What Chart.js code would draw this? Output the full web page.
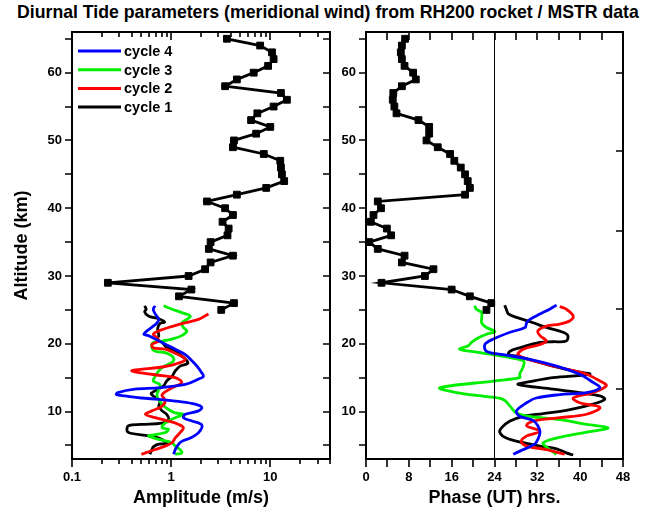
<!DOCTYPE html>
<html>
<head>
<meta charset="utf-8">
<script src="https://cdn.jsdelivr.net/npm/chart.js@4.4.1/dist/chart.umd.min.js"></script>
<style>
  body { margin: 0; background: #fff; width: 646px; height: 516px; position: relative; overflow: hidden; font-family: "Liberation Sans", Arial, sans-serif; }
  #title { position: absolute; left: 17px; top: 2px; white-space: nowrap; font-weight: bold; font-size: 17.7px; color: #000; }
  #amp { position: absolute; left: 0; top: 0; }
  #phase { position: absolute; left: 340px; top: 0; }
</style>
</head>
<body>
<div id="title">Diurnal Tide parameters (meridional wind) from RH200 rocket / MSTR data</div>
<canvas id="amp" width="340" height="516"></canvas>
<canvas id="phase" width="306" height="516"></canvas>
<script>
// rocket profile (cycle 1), altitude in km, one point per km
const rocketAlt = [65, 64, 63, 62, 61, 60, 59, 58, 57, 56, 55, 54, 53, 52, 51, 50, 49, 48, 47, 46, 45,
                   44, 43, 42, 41, 40, 39, 38, 37, 36, 35, 34, 33, 32, 31, 30, 29, 28, 27, 26, 25];
const rocketAmp = [3.65, 7.9, 10.4, 10.8, 9.5, 6.8, 4.6, 3.5, 12.8, 14.7, 10.8, 7.4, 6.4, 10.0, 7.2, 4.3, 4.2,
                   8.6, 12.6, 12.8, 13.1, 13.8, 9.1, 4.6, 2.3, 3.5, 4.2, 3.3, 3.8, 3.7, 2.5, 2.4, 4.2, 2.5,
                   2.2, 1.5, 0.23, 1.6, 1.2, 4.3, 3.2];
const rocketPhase = [7.3, 6.7, 6.5, 6.7, 7.2, 8.8, 9.3, 6.7, 5.1, 5.0, 5.3, 5.7, 9.8, 11.8, 11.8, 11.3, 13.4,
                     15.7, 16.5, 17.7, 18.5, 19.0, 19.4, 18.5, 2.2, 2.8, 1.4, 0.9, 3.9, 4.7, 0.6, 2.2, 7.2,
                     6.7, 12.6, 11.0, 2.9, 16.0, 19.4, 23.4, 22.5];

// MSTR radar profiles: [altitude km, value]
const cycle1Amp = [[25.6,0.54],[25.1,0.56],[24.7,0.54],[24.1,0.59],[23.7,0.75],[23.2,0.86],[23.0,0.77],[22.2,0.73],
  [21.2,0.75],[20.7,0.72],[20.2,0.81],[19.6,0.88],[19.2,0.98],[18.9,1.10],[18.4,1.23],[17.5,1.44],[17.1,1.47],
  [16.7,1.23],[16.0,1.10],[15.2,1.02],[14.5,0.90],[13.8,0.84],[12.7,0.63],[12.3,0.66],[11.8,0.75],[11.3,0.77],
  [10.8,0.75],[10.1,0.81],[9.6,0.90],[8.8,0.94],[8.3,0.81],[8.1,0.50],[7.9,0.37],[7.1,0.36],[6.8,0.39],[6.4,0.59],
  [6.1,0.75],[5.6,0.87],[5.3,0.94],[5.2,0.75],[4.8,0.66],[4.4,0.64],[3.7,0.61]];
const cycle2Amp = [[24.4,2.38],[23.6,1.89],[23.1,1.39],[22.4,0.94],[21.9,0.75],[21.4,0.66],[20.9,0.72],[20.4,0.75],
  [19.9,0.64],[19.4,0.66],[19.2,0.87],[18.7,1.06],[17.7,1.39],[17.0,1.10],[16.5,0.75],[16.2,0.47],[16.0,0.40],
  [15.7,0.50],[15.3,0.81],[15.0,1.10],[14.3,1.28],[13.5,1.02],[12.5,0.81],[11.6,0.87],[10.8,0.81],[10.1,0.64],
  [9.6,0.55],[9.1,0.69],[8.6,0.94],[8.1,1.19],[7.6,1.33],[6.9,1.23],[6.1,1.10],[5.4,1.02],[4.9,0.87],[4.4,0.69],
  [3.9,0.55],[3.7,0.50]];
const cycle3Amp = [[25.6,0.84],[25.1,1.02],[24.6,1.28],[24.1,1.56],[23.6,1.44],[23.1,1.28],[22.4,1.33],[21.9,1.44],
  [21.2,1.28],[20.7,1.02],[20.4,0.81],[20.2,0.66],[19.4,0.64],[18.9,0.69],[18.7,0.87],[18.2,1.02],[17.5,1.06],
  [17.0,0.94],[16.5,0.81],[16.0,0.75],[15.2,0.69],[14.5,0.66],[14.0,0.77],[13.3,0.75],[12.3,0.72],[11.1,0.81],
  [10.3,0.94],[9.8,1.10],[9.6,1.33],[9.1,1.10],[8.3,0.87],[7.6,0.81],[7.4,0.94],[6.9,0.87],[6.6,0.69],[6.4,0.59],
  [5.9,0.75],[5.4,1.02],[4.9,1.10],[4.4,1.23],[3.9,1.28],[3.7,1.10]];
const cycle4Amp = [[25.6,0.69],[25.1,0.66],[24.4,0.69],[23.6,0.75],[23.1,0.72],[22.6,0.66],[21.9,0.57],[21.4,0.53],
  [21.2,0.59],[20.7,0.69],[20.2,0.81],[19.7,0.94],[19.2,1.10],[18.4,1.39],[17.5,1.62],[16.7,1.82],[15.7,2.04],
  [15.2,2.12],[14.8,1.89],[14.0,1.39],[13.5,0.75],[13.3,0.43],[12.8,0.29],[12.5,0.28],[12.3,0.34],[12.0,0.50],
  [11.8,0.75],[11.5,1.19],[11.1,1.75],[10.6,2.04],[10.1,1.89],[9.6,1.39],[9.1,1.33],[8.6,1.62],[8.0,2.04],
  [6.9,1.89],[6.1,1.56],[5.6,1.28],[5.2,1.19],[4.4,1.10],[3.7,1.06]];

const cycle1Phase = [[25.7,25.9],[25.1,26.2],[24.4,26.6],[23.9,28.1],[23.1,31.2],[22.4,33.7],[21.7,36.8],[21.2,37.7],
  [20.4,37.4],[20.3,34.9],[20.2,32.5],[19.4,28.7],[18.9,26.9],[18.4,26.6],[18.2,28.1],[17.5,31.2],[16.7,34.9],
  [16.0,38.7],[15.5,41.8],[15.0,34.9],[14.4,30.6],[14.0,28.4],[13.3,34.9],[12.8,39.9],[12.3,43.7],[11.8,44.6],
  [11.1,42.4],[10.3,38.1],[9.7,33.1],[9.3,29.4],[8.6,26.9],[7.6,25.3],[6.9,25.0],[6.1,26.2],[5.4,29.4],[4.9,32.5],
  [4.5,35.6],[3.9,37.4],[3.6,38.7]];
const cycle2Phase = [[25.5,36.2],[25.1,37.4],[24.1,38.7],[23.4,38.1],[22.9,36.2],[22.6,33.7],[21.9,32.1],[21.2,32.5],
  [20.4,33.7],[19.9,32.5],[19.2,29.4],[18.4,28.4],[17.5,31.2],[16.5,36.2],[15.5,41.2],[14.5,43.7],[13.8,44.9],
  [12.8,42.4],[12.0,38.7],[11.3,39.9],[10.6,43.7],[9.6,41.2],[9.1,36.2],[8.6,31.2],[7.9,30.0],[7.1,32.5],[6.4,30.0],
  [5.6,29.0],[4.9,30.0],[4.4,33.7],[3.7,37.1]];
const cycle3Phase = [[25.6,20.3],[25.1,20.6],[24.6,21.6],[23.1,21.6],[22.4,22.5],[21.8,24.1],[21.4,22.5],[20.9,21.0],
  [20.2,19.7],[19.7,19.1],[19.2,17.5],[18.7,21.3],[17.5,29.4],[16.7,29.4],[15.5,28.7],[15.0,28.7],[14.5,23.8],
  [13.5,13.8],[12.8,16.9],[12.2,22.5],[11.8,25.6],[10.8,26.9],[9.8,28.1],[9.3,30.6],[8.8,36.2],[8.1,41.2],
  [7.6,45.2],[7.1,42.4],[6.4,37.4],[5.4,33.1],[4.4,34.3],[3.7,35.6]];
const cycle4Phase = [[25.7,35.6],[25.1,34.3],[24.4,32.5],[23.6,30.6],[23.1,30.0],[22.4,29.7],[21.7,26.9],[20.7,23.8],
  [19.9,22.2],[18.9,22.5],[18.4,25.6],[17.7,30.6],[16.7,35.6],[15.5,39.9],[14.3,42.4],[13.5,43.7],[12.8,41.2],
  [12.5,36.2],[12.0,31.8],[11.3,30.0],[10.1,28.1],[9.3,28.7],[8.7,31.2],[7.9,32.1],[6.9,32.5],[5.9,32.1],[5.2,31.5],
  [4.4,29.4],[3.7,27.5]];

// ticks
const altLabels = [10, 20, 30, 40, 50, 60];
const altTicks = [5, 10, 15, 20, 25, 30, 35, 40, 45, 50, 55, 60, 65];
const phaseRightTicks = [13.4, 25.1, 36.7, 48.4, 60];
const ampLabels = [0.1, 1, 10];
const ampMinor = [0.2, 0.3, 0.4, 0.5, 0.6, 0.7, 0.8, 0.9, 2, 3, 4, 5, 6, 7, 8, 9, 20, 30, 40];
const phaseLabels = [0, 8, 16, 24, 32, 40, 48];
const phaseTicks = [0, 4, 8, 12, 16, 20, 24, 28, 32, 36, 40, 44, 48];
const refPhase = 24;

const legendItems = [
  { label: 'cycle 4', color: '#0000ff' },
  { label: 'cycle 3', color: '#00ee00' },
  { label: 'cycle 2', color: '#ff0000' },
  { label: 'cycle 1', color: '#000000' }
];
const colorOf = {};
legendItems.forEach(d => { colorOf[d.label] = d.color; });

Chart.defaults.font.family = '"Liberation Sans", Arial, sans-serif';
Chart.defaults.font.weight = 'bold';
Chart.defaults.color = '#000';

function radar(label, pairs) {
  return {
    label: label,
    data: pairs.map(p => ({ x: p[1], y: p[0] })),
    borderColor: colorOf[label],
    borderWidth: 2.8,
    pointRadius: 0,
    tension: 0.35,
    fill: false
  };
}

function rocket(values) {
  return {
    label: 'rocket',
    data: rocketAlt.map((a, i) => ({ x: values[i], y: a })),
    borderColor: '#000',
    backgroundColor: '#000',
    borderWidth: 2.8,
    pointStyle: 'rect',
    pointRadius: 4.8,
    pointBorderWidth: 1,
    tension: 0,
    fill: false
  };
}

// frame, tick marks on all four sides, optional reference line
function framePlugin(cfg) {
  return {
    id: 'frame',
    afterDatasetsDraw(chart) {
      const { ctx, chartArea: a, scales: { x, y } } = chart;
      ctx.save();
      ctx.strokeStyle = '#000';
      if (cfg.refX !== undefined) {
        const px = x.getPixelForValue(cfg.refX);
        ctx.lineWidth = 1;
        ctx.beginPath();
        ctx.moveTo(px, a.top);
        ctx.lineTo(px, a.bottom);
        ctx.stroke();
      }
      ctx.lineWidth = 1.6;
      ctx.beginPath();
      cfg.leftTicks.forEach(v => {
        const py = Math.round(y.getPixelForValue(v));
        ctx.moveTo(a.left - 7, py); ctx.lineTo(a.left, py);
      });
      cfg.rightTicks.forEach(v => {
        const py = Math.round(y.getPixelForValue(v));
        ctx.moveTo(a.right - 7, py); ctx.lineTo(a.right, py);
      });
      cfg.xMajor.forEach(v => {
        const px = Math.round(x.getPixelForValue(v));
        ctx.moveTo(px, a.bottom); ctx.lineTo(px, a.bottom + 8);
        ctx.moveTo(px, a.top); ctx.lineTo(px, a.top + 8);
      });
      cfg.xMinor.forEach(v => {
        const px = Math.round(x.getPixelForValue(v));
        ctx.moveTo(px, a.bottom); ctx.lineTo(px, a.bottom + cfg.minorLen);
        ctx.moveTo(px, a.top); ctx.lineTo(px, a.top + cfg.minorLen);
      });
      ctx.stroke();
      ctx.lineWidth = 2;
      ctx.strokeRect(a.left, a.top, a.right - a.left, a.bottom - a.top);
      ctx.restore();
    }
  };
}

const legendPlugin = {
  id: 'insideLegend',
  afterDraw(chart) {
    const { ctx, chartArea: a } = chart;
    ctx.save();
    ctx.font = 'bold 14.5px "Liberation Sans", Arial, sans-serif';
    ctx.textBaseline = 'middle';
    legendItems.forEach((d, i) => {
      const yy = a.top + 19 + i * 18.7;
      ctx.strokeStyle = d.color;
      ctx.lineWidth = 3;
      ctx.beginPath();
      ctx.moveTo(a.left + 6, yy);
      ctx.lineTo(a.left + 49, yy);
      ctx.stroke();
      ctx.fillStyle = '#000';
      ctx.fillText(d.label, a.left + 52, yy + 1);
    });
    ctx.restore();
  }
};

const tickFont = { size: 13, weight: 'bold' };
const titleFont = { size: 18, weight: 'bold' };

function yAxis(width, showTitle) {
  return {
    type: 'linear',
    min: 3,
    max: 66,
    afterBuildTicks: s => { s.ticks = altLabels.map(v => ({ value: v })); },
    afterFit: s => { s.width = width; },
    grid: { display: false, drawTicks: false },
    border: { display: false },
    ticks: { padding: 10, font: tickFont, color: '#000' },
    title: { display: showTitle, text: 'Altitude (km)', color: '#000', font: titleFont, padding: { top: 11, bottom: 0 } }
  };
}

new Chart(document.getElementById('amp'), {
  type: 'line',
  data: {
    datasets: [
      rocket(rocketAmp),
      radar('cycle 4', cycle4Amp),
      radar('cycle 2', cycle2Amp),
      radar('cycle 3', cycle3Amp),
      radar('cycle 1', cycle1Amp)
    ]
  },
  options: {
    responsive: false,
    animation: false,
    layout: { padding: { top: 32, right: 10, left: 0, bottom: 0 } },
    plugins: { legend: { display: false }, tooltip: { enabled: false } },
    scales: {
      x: {
        type: 'logarithmic',
        min: 0.1,
        max: 40,
        afterBuildTicks: s => { s.ticks = ampLabels.map(v => ({ value: v })); },
        afterFit: s => { s.height = 57; },
        grid: { display: false, drawTicks: false },
        border: { display: false },
        ticks: { padding: 11, font: tickFont, color: '#000', maxRotation: 0, autoSkip: false, callback: v => String(v) },
        title: { display: true, text: 'Amplitude (m/s)', color: '#000', font: titleFont, padding: { top: 0, bottom: 7 } }
      },
      y: yAxis(72, true)
    }
  },
  plugins: [framePlugin({ leftTicks: altTicks, rightTicks: altTicks, xMajor: ampLabels, xMinor: ampMinor, minorLen: 5 }), legendPlugin]
});

new Chart(document.getElementById('phase'), {
  type: 'line',
  data: {
    datasets: [
      rocket(rocketPhase),
      radar('cycle 4', cycle4Phase),
      radar('cycle 2', cycle2Phase),
      radar('cycle 3', cycle3Phase),
      radar('cycle 1', cycle1Phase)
    ]
  },
  options: {
    responsive: false,
    animation: false,
    layout: { padding: { top: 32, right: 23, left: 0, bottom: 0 } },
    plugins: { legend: { display: false }, tooltip: { enabled: false } },
    scales: {
      x: {
        type: 'linear',
        min: 0,
        max: 48,
        afterBuildTicks: s => { s.ticks = phaseLabels.map(v => ({ value: v })); },
        afterFit: s => { s.height = 57; },
        grid: { display: false, drawTicks: false },
        border: { display: false },
        ticks: { padding: 11, font: tickFont, color: '#000', maxRotation: 0, autoSkip: false },
        title: { display: true, text: 'Phase (UT) hrs.', color: '#000', font: titleFont, padding: { top: 0, bottom: 7 } }
      },
      y: yAxis(26, false)
    }
  },
  plugins: [framePlugin({ leftTicks: altTicks, rightTicks: phaseRightTicks, xMajor: phaseTicks, xMinor: [], minorLen: 0, refX: refPhase })]
});
</script>
</body>
</html>
